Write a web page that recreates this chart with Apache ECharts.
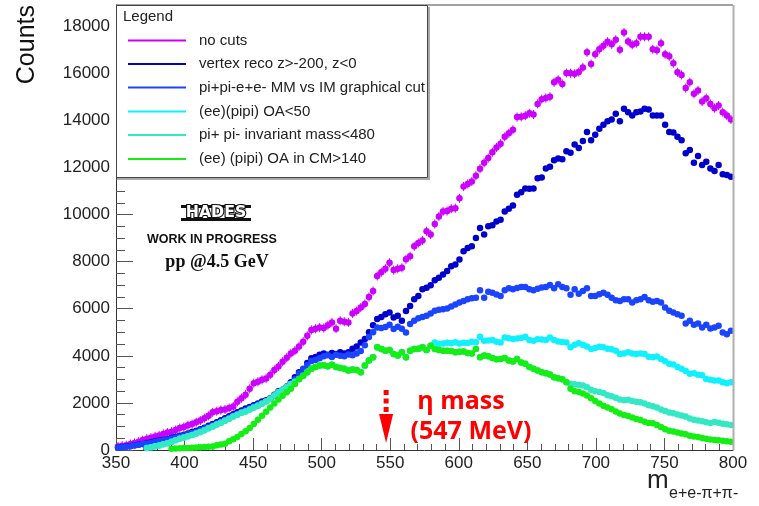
<!DOCTYPE html>
<html>
<head>
<meta charset="utf-8">
<script src="https://cdn.jsdelivr.net/npm/echarts/dist/echarts.min.js"></script>
<style>
html,body{margin:0;padding:0;background:#fff;}
#main{width:759px;height:506px;}
</style>
</head>
<body>
<div id="main"></div>
<script>
// ---- histogram binning (3 MeV bins from 350 to 800) ----
const binStart = 350;
const binWidth = 3;

// ---- axis ticks ----
const xTicks = [350, 400, 450, 500, 550, 600, 650, 700, 750, 800];
const yTicks = [0, 2000, 4000, 6000, 8000, 10000, 12000, 14000, 16000, 18000];
const etaMass = 547;

// ---- legend labels ----
const seriesNames = [
  'no cuts',
  'vertex reco z>-200, z<0',
  'pi+pi-e+e- MM vs IM graphical cut',
  '(ee)(pipi) OA<50',
  'pi+ pi- invariant mass<480',
  '(ee) (pipi) OA in CM>140'
];
const seriesColors = ['#cc00ff', '#0000cc', '#1a44ff', '#11f0ff', '#33e8c4', '#14ee14'];

// ---- counts per bin ----
const noCuts = [
  150,180,200,250,300,350,420,480,520,570,
  620,680,740,780,850,930,980,1050,1100,1180,
  1250,1350,1450,1600,1650,1700,1720,1780,1850,2050,
  2200,2350,2600,2840,2900,2980,3040,3200,3400,3550,
  3750,3920,4100,4220,4400,4600,4850,5100,5150,5200,
  5180,5300,5420,5150,5490,5450,5420,5800,5900,6050,
  6200,6500,6750,7390,7550,7700,7950,7640,7700,7740,
  8100,8230,8650,8790,8900,9290,9150,9600,9920,10130,
  10150,10250,10270,10690,11190,11300,11400,11650,11950,12200,
  12400,12650,12850,13010,13300,13450,13600,14140,14150,14200,
  14300,14250,14700,14900,14950,15000,15620,15720,15550,16010,
  16000,15980,16050,16250,16890,16390,16810,17020,17170,17340,
  17230,17420,17000,17730,17350,17210,17280,17550,17550,17550,
  17020,16980,17280,16810,16720,16430,16040,15930,15370,15620,
  15130,15270,14800,14940,14700,14520,14630,14350,14210,14040
];
const vertexReco = [
  110,130,150,170,200,230,260,300,330,370,
  400,430,470,520,560,600,650,700,760,820,
  880,950,1030,1100,1180,1260,1350,1430,1520,1600,
  1680,1760,1830,1900,1980,2060,2110,2200,2350,2500,
  2560,2700,2880,3090,3300,3400,3700,3900,3950,4050,
  4100,4050,4120,4080,4150,4100,4150,4300,4400,4570,
  4710,5000,5300,5560,5650,5770,5840,5630,5700,5490,
  5900,6120,6400,6540,6830,6890,7000,7210,7320,7450,
  7600,7800,7880,8090,8440,8580,8650,9000,9430,9150,
  9500,9550,9710,9780,10130,10250,10380,10840,10950,11110,
  11100,11110,11540,11570,11960,12030,12310,12380,12350,12690,
  12630,12970,12830,13120,13510,13160,13390,13640,13810,13960,
  14040,14280,13960,14490,14350,14210,14350,14380,14490,14460,
  14210,14210,14210,13810,13510,13480,13300,13160,12600,12740,
  12200,12490,12100,12240,11960,11850,12100,11710,11680,11610
];
const mmImCut = [
  100,120,140,160,190,220,250,280,310,350,
  380,410,450,490,530,570,620,670,720,780,
  840,910,980,1050,1130,1200,1290,1370,1450,1530,
  1610,1690,1770,1850,1930,2000,2080,2170,2300,2450,
  2520,2650,2800,3000,3250,3450,3600,3780,3820,3900,
  3980,4020,3950,4050,4000,3980,4060,4020,4100,4200,
  4450,4800,5000,5200,5180,5220,5320,5140,5230,5150,
  4990,5350,5490,5600,5650,5700,5800,5910,5960,5980,
  6010,6100,6180,6260,6330,6400,6450,6470,6780,6470,
  6720,6680,6600,6540,6780,6870,6830,6880,6920,6920,
  6830,6780,6850,6900,6920,7010,6870,7040,6920,6870,
  6590,6830,6640,6750,6870,6540,6540,6610,6680,6590,
  6470,6360,6330,6400,6400,6260,6360,6400,6500,6360,
  6300,6330,6260,6050,5910,5840,5770,5700,5370,5490,
  5320,5370,5200,5320,5160,5200,5280,4990,4920,5060
];
const oaLt50 = [
  null,null,null,null,null,null,null,80,120,160,
  190,240,290,350,410,480,530,580,640,700,
  760,840,920,1000,1080,1160,1240,1330,1420,1500,
  1580,1640,1720,1800,1880,1960,2060,2180,2320,2450,
  2560,2680,2800,2900,3020,3150,3300,3450,3520,3590,
  3600,3560,3620,3520,3480,3450,3380,3420,3400,3300,
  3590,3800,3940,4360,4290,4220,4250,4080,4010,4150,
  3940,4220,4290,4300,4360,4250,4430,4570,4500,4520,
  4550,4530,4580,4520,4560,4540,4600,4580,4810,4640,
  4650,4670,4600,4570,4780,4750,4710,4740,4760,4810,
  4670,4640,4700,4690,4670,4780,4670,4610,4590,4570,
  4360,4470,4530,4470,4400,4290,4330,4390,4360,4300,
  4280,4220,4080,4100,4150,4100,4080,4100,4080,3960,
  3940,3970,3870,3770,3660,3630,3520,3450,3350,3240,
  3260,3200,3170,3020,2980,2950,2950,2880,2830,2880
];
const pipiImLt480 = [
  null,null,null,null,null,null,null,80,120,160,
  190,240,290,350,410,480,530,580,640,700,
  760,840,920,1000,1080,1160,1240,1330,1420,1500,
  1580,1640,1720,1800,1880,1960,2060,2180,2320,2450,
  2560,2680,2800,2900,3020,3150,3300,3450,3520,3590,
  3600,3560,3620,3520,3480,3450,3380,3420,3400,3300,
  3590,3800,3940,4360,4290,4220,4250,4080,4010,4150,
  3940,4220,4290,4300,4360,4250,4430,4290,4250,4220,
  4220,4200,4150,4170,4180,4120,4100,4290,3940,4010,
  3980,3910,3850,3870,3910,3800,3760,3870,3720,3660,
  3520,3450,3380,3300,3260,3210,3090,3050,3000,2880,
  2810,2790,2770,2740,2670,2560,2500,2460,2420,2330,
  2280,2220,2140,2110,2130,2080,2050,2030,1970,1900,
  1860,1800,1720,1660,1590,1560,1510,1460,1420,1340,
  1280,1250,1220,1180,1150,1190,1160,1120,1090,1060
];
const oaCmGt140 = [
  null,null,null,null,null,null,null,null,null,null,
  null,null,null,50,60,70,80,90,100,110,
  120,130,140,150,200,230,270,370,460,550,
  680,800,930,1100,1290,1450,1620,1800,1980,2150,
  2300,2450,2600,2800,3000,3150,3300,3450,3520,3590,
  3600,3560,3620,3520,3480,3450,3380,3420,3400,3300,
  3590,3800,3940,4360,4290,4220,4250,4080,4010,4150,
  3940,4220,4290,4300,4360,4250,4430,4290,4250,4220,
  4220,4200,4150,4170,4180,4120,4100,4290,3940,4010,
  3980,3910,3850,3870,3910,3800,3760,3870,3720,3660,
  3520,3450,3380,3300,3260,3210,3090,3050,3000,2880,
  2600,2500,2460,2400,2320,2200,2080,1970,1880,1800,
  1730,1640,1550,1490,1440,1380,1320,1270,1200,1150,
  1140,1060,980,880,820,790,740,700,670,600,
  570,550,510,480,450,430,410,390,370,350
];
const noCutsErr = 150; // half-length of the drawn error bars (counts)

const allSeries = [noCuts, vertexReco, mmImCut, oaLt50, pipiImLt480, oaCmGt140];

function toPoints(arr) {
  const out = [];
  arr.forEach((v, i) => { if (v != null) out.push([binStart + binWidth * (i + 0.5), v]); });
  return out;
}

const FONT = '"Liberation Sans", Arial, sans-serif';
const chart = echarts.init(document.getElementById('main'), null, {renderer: 'canvas'});

const series = [];
series.push({
  type: 'custom',
  name: 'errbars',
  silent: true,
  z: 2,
  renderItem: function (params, api) {
    const x = api.value(0), y = api.value(1);
    const a = api.coord([x, y + noCutsErr]);
    const b = api.coord([x, y - noCutsErr]);
    return {type: 'line', shape: {x1: a[0], y1: a[1] - 1, x2: b[0], y2: b[1] + 1},
      style: {stroke: seriesColors[0], lineWidth: 1}};
  },
  data: toPoints(noCuts)
});
allSeries.forEach((arr, k) => {
  series.push({
    type: 'scatter',
    name: seriesNames[k],
    data: toPoints(arr),
    symbol: 'circle',
    symbolSize: 6.5,
    itemStyle: {color: seriesColors[k], opacity: 1},
    z: 3 + k,
    silent: true
  });
});

const option = {
  animation: false,
  backgroundColor: '#ffffff',
  grid: {left: 116, top: 5, width: 617, height: 445, containLabel: false, show: false},
  xAxis: {
    type: 'value', min: xTicks[0], max: xTicks[xTicks.length - 1], interval: 50,
    axisLine: {show: true, onZero: false, lineStyle: {color: '#333', width: 1}},
    axisTick: {show: true, inside: true, length: 12, lineStyle: {color: '#555'}},
    minorTick: {show: true, splitNumber: 5, length: 6, lineStyle: {color: '#555'}},
    splitLine: {show: false},
    axisLabel: {color: '#222', fontFamily: FONT, fontSize: 17, margin: 5,
      formatter: v => (xTicks.indexOf(v) >= 0 ? String(v) : '')}
  },
  yAxis: {
    type: 'value', min: 0, max: 18900, interval: 2000,
    axisLine: {show: true, onZero: false, lineStyle: {color: '#333', width: 1}},
    axisTick: {show: true, inside: true, length: 17, lineStyle: {color: '#555'}},
    minorTick: {show: true, splitNumber: 4, length: 9, lineStyle: {color: '#555'}},
    splitLine: {show: false},
    axisLabel: {color: '#222', fontFamily: FONT, fontSize: 17, margin: 6,
      formatter: v => (yTicks.indexOf(v) >= 0 ? String(v) : '')}
  },
  series: series
};
chart.setOption(option);

// ---- annotations / frame / legend ----
const etaX = chart.convertToPixel({xAxisIndex: 0}, etaMass);
const g = [];
// frame top and right
g.push({type: 'line', shape: {x1: 116, y1: 5, x2: 733, y2: 5}, style: {stroke: '#444', lineWidth: 1}, z: 50});
g.push({type: 'line', shape: {x1: 733.5, y1: 5, x2: 733.5, y2: 450}, style: {stroke: '#b0b0b0', lineWidth: 2}, z: 50});

// legend box
g.push({type: 'rect', shape: {x: 116.5, y: 5.5, width: 311, height: 172},
  style: {fill: '#fff', stroke: '#444', lineWidth: 1}, z: 60});
g.push({type: 'line', shape: {x1: 117, y1: 179, x2: 429, y2: 179}, style: {stroke: '#aaa', lineWidth: 2}, z: 60});
g.push({type: 'line', shape: {x1: 429, y1: 7, x2: 429, y2: 180}, style: {stroke: '#aaa', lineWidth: 2}, z: 60});
g.push({type: 'text', x: 123, y: 17, style: {text: 'Legend', font: '15px ' + FONT, fill: '#222', textVerticalAlign: 'middle'}, z: 61});
const rowY = [40.5, 64, 87.5, 111.5, 135, 159];
seriesNames.forEach((name, k) => {
  g.push({type: 'line', shape: {x1: 128, y1: rowY[k], x2: 186, y2: rowY[k]},
    style: {stroke: seriesColors[k], lineWidth: 2}, z: 61});
  g.push({type: 'text', x: 199, y: rowY[k], style: {text: name, font: '15px ' + FONT, fill: '#222', textVerticalAlign: 'middle'}, z: 61});
});

// HADES logo and labels
g.push({type: 'rect', shape: {x: 181, y: 205, width: 70, height: 3}, style: {fill: '#111'}, z: 40});
g.push({type: 'rect', shape: {x: 181, y: 218, width: 70, height: 3}, style: {fill: '#111'}, z: 40});
g.push({type: 'text', x: 216, y: 213.5, style: {text: 'HADES', font: 'bold 15px "DejaVu Sans", sans-serif',
  fill: '#fff', stroke: '#111', lineWidth: 2.2, textAlign: 'center', textVerticalAlign: 'middle'}, scaleX: 1.05, z: 41});
g.push({type: 'text', x: 212, y: 240, style: {text: 'WORK IN PROGRESS', font: 'bold 12.5px ' + FONT,
  fill: '#111', textAlign: 'center', textVerticalAlign: 'middle'}, z: 40});
g.push({type: 'text', x: 217, y: 262, style: {text: 'pp @4.5 GeV', font: 'bold 18px "Liberation Serif", serif',
  fill: '#111', textAlign: 'center', textVerticalAlign: 'middle'}, z: 40});

// eta mass arrow
[390, 398.5, 407].forEach(yy => {
  g.push({type: 'rect', shape: {x: etaX - 2.5, y: yy, width: 5, height: 5}, style: {fill: '#ff0000'}, z: 45});
});
g.push({type: 'polygon', shape: {points: [[etaX - 7, 414], [etaX + 7, 414], [etaX, 443]]}, style: {fill: '#ff0000'}, z: 45});
g.push({type: 'text', x: 461, y: 402, style: {text: 'η mass', font: 'bold 25px "Open Sans", sans-serif',
  fill: '#ff0000', textAlign: 'center', textVerticalAlign: 'middle'}, z: 45});
g.push({type: 'text', x: 471, y: 432, style: {text: '(547 MeV)', font: 'bold 25px "Open Sans", sans-serif',
  fill: '#ff0000', textAlign: 'center', textVerticalAlign: 'middle'}, z: 45});

// axis titles
g.push({type: 'text', x: 27, y: 5, rotation: Math.PI / 2,
  style: {text: 'Counts', font: '25px ' + FONT, fill: '#111', textAlign: 'right', textVerticalAlign: 'middle'}, z: 40});
g.push({type: 'text', x: 647, y: 494, style: {text: 'm', font: '26px ' + FONT, fill: '#222', textAlign: 'left', textVerticalAlign: 'bottom'}, z: 40});
g.push({type: 'text', x: 669, y: 502, style: {text: 'e+e-π+π-', font: '16px ' + FONT, fill: '#222', textAlign: 'left', textVerticalAlign: 'bottom'}, z: 40});

chart.setOption({graphic: {elements: g}});
</script>
</body>
</html>
